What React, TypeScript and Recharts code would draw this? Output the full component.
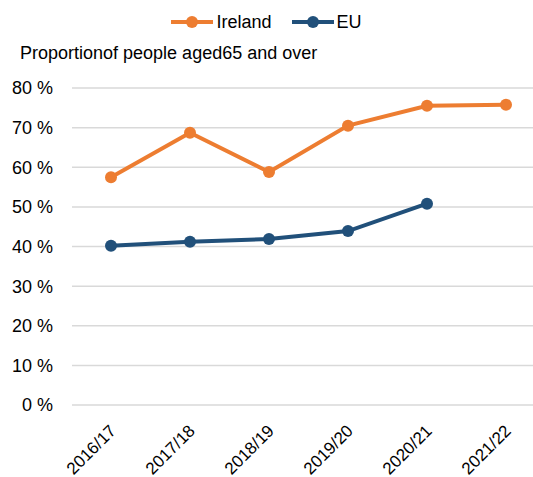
import React from "react";
import { LineChart, Line, XAxis, YAxis, CartesianGrid, Legend } from "recharts";

const years = ["2016/17", "2017/18", "2018/19", "2019/20", "2020/21", "2021/22"];
const ireland = [57.5, 68.7, 58.8, 70.5, 75.5, 75.8];
const eu = [40.2, 41.2, 41.9, 43.9, 50.8, null];
const yTicks = [0, 10, 20, 30, 40, 50, 60, 70, 80];

const ORANGE = "#ED7D31";
const BLUE = "#21507A";
const FONT = "'Liberation Sans', Arial, sans-serif";

const data = years.map((year, i) => ({ year, ireland: ireland[i], eu: eu[i] }));

function LegendItem({ color, label }: { color: string; label: string }) {
  return (
    <span style={{ display: "inline-flex", alignItems: "center", margin: "0 10px" }}>
      <svg width={42} height={14} style={{ marginRight: 3 }}>
        <line x1={0} y1={7} x2={42} y2={7} stroke={color} strokeWidth={4} />
        <circle cx={21} cy={7} r={6} fill={color} />
      </svg>
      <span>{label}</span>
    </span>
  );
}

function TopContent() {
  return (
    <div style={{ fontFamily: FONT, fontSize: 18, color: "#000" }}>
      <div style={{ width: 533, textAlign: "center", position: "absolute", top: 12, left: 0, lineHeight: "20px" }}>
        <LegendItem color={ORANGE} label="Ireland" />
        <LegendItem color={BLUE} label="EU" />
      </div>
      <div style={{ position: "absolute", top: 43, left: 20, whiteSpace: "nowrap", lineHeight: "20px" }}>
        Proportionof people aged65 and over
      </div>
    </div>
  );
}

function XTick({ x, y, payload }: any) {
  const ax = x + 6;
  const ay = y + 19;
  return (
    <text
      x={ax}
      y={ay}
      textAnchor="end"
      transform={`rotate(-45, ${ax}, ${ay})`}
      fontSize={17}
      fontFamily={FONT}
      fill="#000"
    >
      {payload.value}
    </text>
  );
}

export default function App() {
  return (
    <div style={{ position: "absolute", left: 0, top: 0, width: 533, height: 477, overflow: "hidden", background: "#fff" }}>
      <LineChart width={545} height={477} data={data} margin={{ top: 88, right: 0, bottom: 0, left: 0 }}>
        <CartesianGrid vertical={false} stroke="#D9D9D9" strokeWidth={1.5} />
        <XAxis
          dataKey="year"
          height={72}
          padding={{ left: 39, right: 39 }}
          axisLine={false}
          tickLine={false}
          tick={<XTick />}
          interval={0}
        />
        <YAxis
          width={72}
          domain={[0, 80]}
          ticks={yTicks}
          axisLine={false}
          tickLine={false}
          tickMargin={13}
          tickFormatter={(v: number) => `${v} %`}
          tick={{ fontSize: 18, fontFamily: FONT, fill: "#000" }}
        />
        <Legend content={<TopContent />} wrapperStyle={{ position: "absolute", top: 0, left: 0 }} />
        <Line
          dataKey="ireland"
          name="Ireland"
          stroke={ORANGE}
          strokeWidth={4}
          dot={{ r: 6, fill: ORANGE, stroke: ORANGE, strokeWidth: 0 }}
          isAnimationActive={false}
        />
        <Line
          dataKey="eu"
          name="EU"
          stroke={BLUE}
          strokeWidth={4}
          dot={{ r: 6, fill: BLUE, stroke: BLUE, strokeWidth: 0 }}
          isAnimationActive={false}
        />
      </LineChart>
    </div>
  );
}
